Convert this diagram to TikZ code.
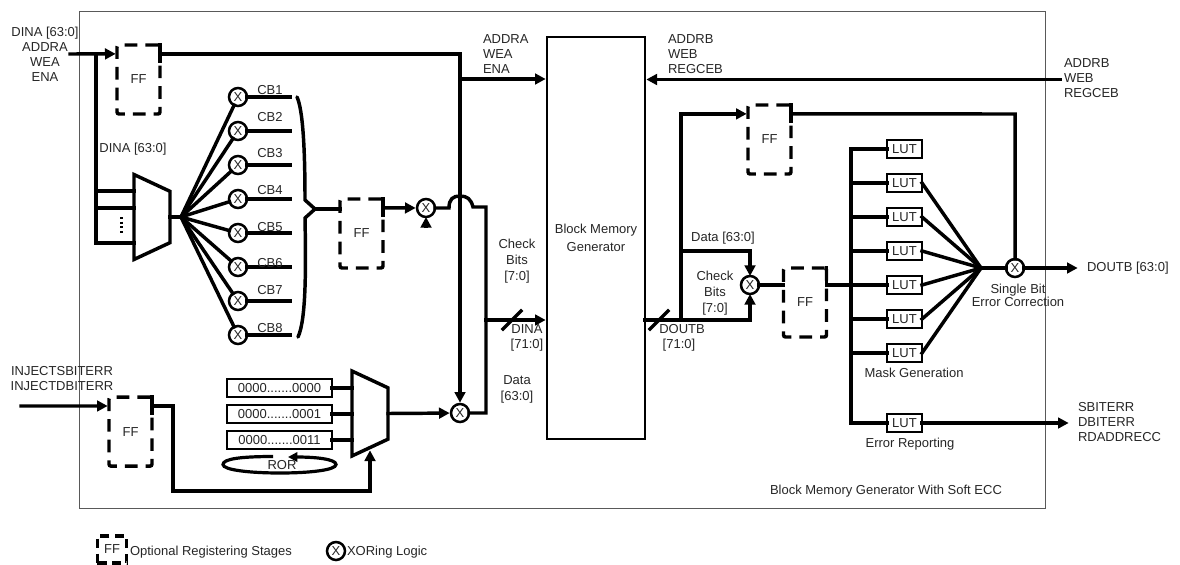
\documentclass[tikz,border=0pt]{standalone}
\usepackage{fontspec}
\setmainfont{Liberation Sans}
\usetikzlibrary{arrows.meta,positioning,shapes.geometric}

\begin{document}
\begin{tikzpicture}[
  x=0.75pt,y=-0.75pt,
  node distance=12pt,
  font=\fontsize{9.75}{11.25}\selectfont,
  text=black!85,
  lbl/.style={inner sep=0pt,outer sep=0pt,align=left},
  lblc/.style={inner sep=0pt,outer sep=0pt,align=center},
  wire/.style={line width=2.6pt,line cap=rect},
  arr/.style={wire,-{Triangle[length=8pt,width=8pt]},shorten >=1pt},
  frm/.style={draw=black!65,line width=0.7pt,minimum width=724.5pt,minimum height=372.75pt,inner sep=0pt,outer sep=0pt},
  blk/.style={draw,line width=2pt,align=center,minimum width=73.5pt,minimum height=301.5pt,inner sep=0pt,outer sep=0pt},
  ff/.style={draw,line width=2.6pt,dash pattern=on 9.5pt off 6pt,rounded corners=1.5pt,minimum width=32.25pt,minimum height=51.75pt,inner sep=0pt,outer sep=0pt},
  xorg/.style={circle,draw,line width=1.9pt,fill=white,minimum size=13.5pt,inner sep=0pt,outer sep=0pt},
  lut/.style={draw,line width=2pt,fill=white,minimum width=26.25pt,minimum height=13.5pt,inner sep=0pt,outer sep=0pt},
  rg/.style={draw,line width=2pt,fill=white,minimum width=78.75pt,minimum height=13.5pt,inner sep=0pt,outer sep=0pt},
  mux/.style={trapezium,trapezium angle=65,draw,line width=2.6pt,rotate=-90,text width=38.5pt,text height=27pt,text depth=0pt,inner sep=0pt,outer sep=0pt}
]
\useasboundingbox (0,0) rectangle (1180,564);
% Frame and memory
\node[frm] (frame) at (562,259.5) {};
\node[blk] (bmg) at (596,238) {Block Memory\\[2pt]Generator};
% Registers
\node[ff] (ff1) at (138.5,79.5) {FF};
\node[ff] (ff2) at (361.5,233.5) {FF};
\node[ff] (ff3) at (769.5,139.5) {FF};
\node[ff] (ff4) at (805,302.5) {FF};
\node[ff] (ff5) at (130.5,431.6) {FF};
% Muxes
\node[mux] (mux1) at (152,217) {};
\node[mux] (mux2) at (370,413.5) {};
% XOR column
\node[xorg] (x1) at (238,97) {X};
\node[xorg,below=of x1] (x2) {X};
\node[xorg,below=of x2] (x3) {X};
\node[xorg,below=of x3] (x4) {X};
\node[xorg,below=of x4] (x5) {X};
\node[xorg,below=of x5] (x6) {X};
\node[xorg,below=of x6] (x7) {X};
\node[xorg,below=of x7] (x8) {X};
\node[xorg] (x9) at (426,208) {X};
\node[xorg] (x10) at (460,413) {X};
\node[xorg] (x11) at (750,285) {X};
\node[xorg] (x12) at (1015,268) {X};
% LUT column
\node[lut] (l1) at (904.5,149) {LUT};
\node[lut,below=of l1] (l2) {LUT};
\node[lut,below=of l2] (l3) {LUT};
\node[lut,below=of l3] (l4) {LUT};
\node[lut,below=of l4] (l5) {LUT};
\node[lut,below=of l5] (l6) {LUT};
\node[lut,below=of l6] (l7) {LUT};
\node[lut] (l8) at (904.5,423) {LUT};
% Patterns
\node[rg] (r1) at (279.5,388) {0000.......0000};
\node[rg,below=6pt of r1] (r2) {0000.......0001};
\node[rg,below=6pt of r2] (r3) {0000.......0011};
% Free ends
\coordinate (ina) at (70,54);
\coordinate (busa) at (96,191);
\coordinate (busb) at (96,208);
\coordinate (busc) at (96,243);
\coordinate (busd) at (96,54);
\coordinate (dota) at (121,217);
\coordinate (dotb) at (121,233);
\coordinate (fana) at (181,217);
\coordinate (cbend) at (290,0);
\coordinate (brtip) at (315,209);
\coordinate (tria) at (426,228);
\coordinate (jump) at (449,208);
\coordinate (chk) at (486,320);
\coordinate (adda) at (460,79);
\coordinate (addb) at (1060,79.5);
\coordinate (sla) at (512,320);
\coordinate (slb) at (659,320);
\coordinate (dout) at (645,320);
\coordinate (dsp) at (681,320);
\coordinate (dat) at (681,251);
\coordinate (lbus) at (851,285);
\coordinate (ltop) at (851,149);
\coordinate (lbot) at (851,423);
\coordinate (fanb) at (981,268);
\coordinate (corr) at (1015,114);
\coordinate (outd) at (1079,268);
\coordinate (oute) at (1070,423);
\coordinate (inj) at (21,406);
\coordinate (selb) at (173,491);
\coordinate (sel) at (370,449);
% Write side
\draw[arr] (ina) -- (ff1.130);
\draw[wire] (busd) -- (busc) -- (busc -| mux1.bottom side);
\draw[wire] (busa) -- (busa -| mux1.bottom side);
\draw[wire] (busb) -- (busb -| mux1.bottom side);
\draw[line width=2.25pt,dash pattern=on 1.5pt off 2pt] (dota) -- (dotb);
\draw[wire] (ff1.north east) -- ++(0,16);
\draw[arr] (ff1.50) -| (x10);
\draw[arr] (adda) -- (adda -| bmg.west);
\draw[arr] (addb) -- (addb -| bmg.east);
\draw[wire] (mux1.top side) -- (fana);
\draw[wire] (fana) -- (x1);
\draw[wire] (fana) -- (x2);
\draw[wire] (fana) -- (x3);
\draw[wire] (fana) -- (x4);
\draw[wire] (fana) -- (x5);
\draw[wire] (fana) -- (x6);
\draw[wire] (fana) -- (x7);
\draw[wire] (fana) -- (x8);
\draw[wire] (x1) -- (x1 -| cbend);
\draw[wire] (x2) -- (x2 -| cbend);
\draw[wire] (x3) -- (x3 -| cbend);
\draw[wire] (x4) -- (x4 -| cbend);
\draw[wire] (x5) -- (x5 -| cbend);
\draw[wire] (x6) -- (x6 -| cbend);
\draw[wire] (x7) -- (x7 -| cbend);
\draw[wire] (x8) -- (x8 -| cbend);
% Brace
\draw[line width=2.6pt,line cap=round] (297,97) .. controls (303,110) and (305,150) .. (305,200) -- (brtip) -- (305,218) .. controls (306,270) and (306,320) .. (298,337);
\draw[wire] (brtip) -- (ff2.west |- brtip);
\draw[wire] (ff2.north east) -- ++(0,16);
\draw[arr] (ff2.50) -- (x9);
\draw[arr,line cap=butt,shorten >=0pt] (tria) -- (x9);
\draw[wire] (x9) -- (jump) .. controls (449,199) and (453,196) .. (460,196) .. controls (467,196) and (471,199) .. (473,207) -| (x10 -| chk) -- (x10);
\draw[arr] (chk) -- (chk -| bmg.west);
\draw[wire] ([shift={(-9,9)}]sla) -- ([shift={(9,-9)}]sla);
% Injection
\draw[arr] (inj) -- (ff5.130);
\draw[wire] (ff5.north east) -- ++(0,16);
\draw[arr] (ff5.50) -| (selb) -| (sel);
\draw[wire] (r1) -- (r1 -| mux2.bottom side);
\draw[wire] (r2) -- (r2 -| mux2.bottom side);
\draw[wire] (r3) -- (r3 -| mux2.bottom side);
\draw[arr] (mux2.top side) -- (x10);
\draw[line width=2.4pt,-{Triangle[length=7pt,width=7pt]}] (273,456.5) .. controls (240,456.5) and (223,459) .. (223,464.5) .. controls (223,470) and (250,473) .. (280,473) .. controls (310,473) and (336,470) .. (336,464.5) .. controls (336,459) and (315,457) .. (288,457);
% Read side
\draw[wire] (dout) -- (dsp) -- (dsp -| x11);
\draw[arr,shorten >=0pt] (dsp -| x11) -- (x11);
\draw[wire] ([shift={(-9,9)}]slb) -- ([shift={(9,-9)}]slb);
\draw[arr] (dsp) |- (ff3.130);
\draw[arr,shorten >=0pt] (dat) -| (x11);
\draw[wire] (x11) -- (x11 -| ff4.west);
\draw[wire] (ff4.north east) -- (ff4.north east |- lbus) -- (lbus);
\draw[wire] (ltop) -- (lbot);
\draw[wire] (ltop) -- (l1);
\draw[wire] (l2 -| lbus) -- (l2);
\draw[wire] (l3 -| lbus) -- (l3);
\draw[wire] (l4 -| lbus) -- (l4);
\draw[wire] (l5 -| lbus) -- (l5);
\draw[wire] (l6 -| lbus) -- (l6);
\draw[wire] (l7 -| lbus) -- (l7);
\draw[wire] (lbot) -- (l8);
\draw[wire] (l2.east) -- (fanb);
\draw[wire] (l3.east) -- (fanb);
\draw[wire] (l4.east) -- (fanb);
\draw[wire] (l5.east) -- (fanb);
\draw[wire] (l6.east) -- (fanb);
\draw[wire] (l7.east) -- (fanb);
\draw[wire] (fanb) -- (x12);
\draw[arr] (x12) -- (outd);
\draw[arr] (l8) -- (oute);
\draw[wire] (ff3.north east) -- ++(0,16);
\draw[wire] (ff3.50) -- (corr) -- (x12);
% Labels
\node[lbl,align=center,anchor=north] (tdin) at (45,27) {DINA [63:0]\\ADDRA\\WEA\\ENA};
\node[lblc] (tdinb) at (133,149) {DINA [63:0]};
\node[lblc] (tcb1) at (270,90) {CB1};
\node[lblc] (tcb2) at (270,117) {CB2};
\node[lblc] (tcb3) at (270,153) {CB3};
\node[lblc] (tcb4) at (270,190) {CB4};
\node[lblc] (tcb5) at (270,227) {CB5};
\node[lblc] (tcb6) at (270,263) {CB6};
\node[lblc] (tcb7) at (270,290) {CB7};
\node[lblc] (tcb8) at (270,328) {CB8};
\node[lbl,anchor=north west] (tadda) at (483,34.5) {ADDRA\\WEA\\ENA};
\node[lbl,anchor=north west] (taddb) at (668,34.5) {ADDRB\\WEB\\REGCEB};
\node[lbl,anchor=north west] (taddc) at (1064,59) {ADDRB\\WEB\\REGCEB};
\node[lblc] (tchk) at (517,261) {Check\\[0.75pt]Bits\\[0.75pt][7:0]};
\node[lblc] (tdina) at (527,338) {DINA\\{}[71:0]};
\node[lblc] (tdat) at (517,389) {Data\\[0.75pt][63:0]};
\node[lblc] (tdo) at (682,338) {DOUTB\\{}[71:0]\hspace*{4.5pt}};
\node[lblc] (tdata) at (723,238) {Data [63:0]};
\node[lblc] (tchkb) at (715,293) {Check\\[0.75pt]Bits\\[0.75pt][7:0]};
\node[lblc] (tinj) at (62,379) {INJECTSBITERR\\INJECTDBITERR};
\node[lblc] (tror) at (282,465) {ROR};
\node[lblc,font=\fontsize{9.75}{9.75}\selectfont] (tsbe) at (1018,295) {Single Bit\\Error Correction};
\node[lblc] (tmask) at (914,373) {Mask Generation};
\node[lblc] (terr) at (910,444) {Error Reporting};
\node[lbl,anchor=west] (tout) at (1087,268) {DOUTB [63:0]};
\node[lbl,anchor=north west] (tsb) at (1078,402) {SBITERR\\DBITERR\\RDADDRECC};
\node[lbl,anchor=west] (tname) at (770,491) {Block Memory Generator With Soft ECC};
% Legend
\node[draw,line width=2.6pt,dash pattern=on 7pt off 4pt,minimum width=22pt,minimum height=20pt,inner sep=0pt,outer sep=0pt] (kff) at (112,549.5) {FF};
\node[lbl,anchor=west] (kfft) at (130,552) {Optional Registering Stages};
\node[xorg] (kx) at (336,551) {X};
\node[lbl,anchor=west] (kxt) at (347,552) {XORing Logic};
\end{tikzpicture}
\end{document}
